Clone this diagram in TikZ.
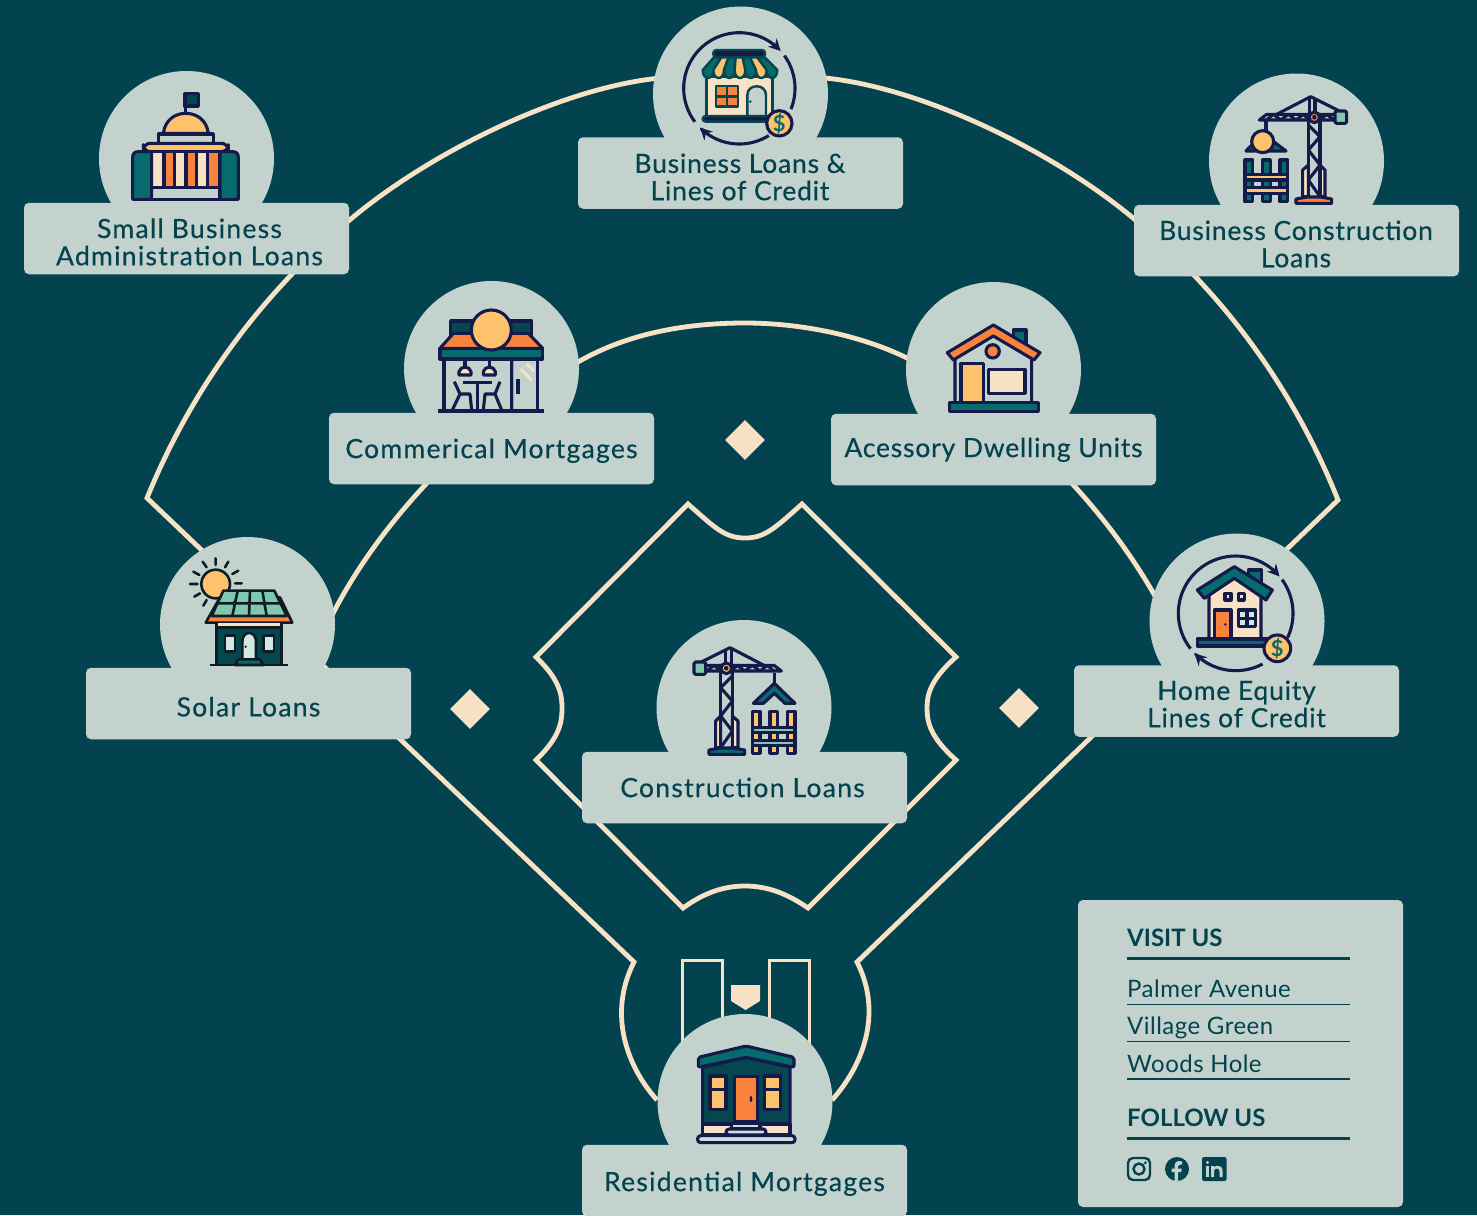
\documentclass[tikz,border=0pt]{standalone}
\usepackage{fontspec}
\setmainfont{Lato}
\newfontfamily\labf{Lato}[FakeBold=0.4,LetterSpace=3]
\newfontfamily\labw{Lato}[FakeBold=0.4,LetterSpace=4.8]
\newfontfamily\itemf{Lato}[LetterSpace=2]
\usetikzlibrary{arrows.meta,shapes.geometric}
\definecolor{bgc}{HTML}{02434F}
\definecolor{panel}{HTML}{C3D2CC}
\definecolor{cream}{HTML}{F7E2C6}
\definecolor{navy}{HTML}{141A4A}
\definecolor{teal}{HTML}{066B6C}
\definecolor{deep}{HTML}{05474F}
\definecolor{orng}{HTML}{F9823C}
\definecolor{yel}{HTML}{FDC26B}
\definecolor{mint}{HTML}{7FC8AE}
\definecolor{pale}{HTML}{D3E8E2}
\definecolor{blk}{HTML}{0E1C26}
\tikzset{
 x=1pt,y=-1pt,
 field/.style={draw=cream,line width=4.8pt,line join=miter},
 box/.style={draw=cream,line width=3pt},
 circ/.style={circle,fill=panel,minimum size=175pt,inner sep=0pt},
 lab/.style={rectangle,fill=panel,rounded corners=5pt,minimum width=325pt,minimum height=71.5pt,inner sep=0pt,text=bgc,align=center,font=\fontsize{26.5}{27.3}\labf\selectfont},
 labwide/.style={lab,font=\fontsize{26.5}{27.3}\labw\selectfont},
 labtxt/.style={inner sep=0pt,text=bgc,align=center,font=\fontsize{26.5}{27.3}\labf\selectfont},
 labtxtw/.style={labtxt,font=\fontsize{26.5}{27.3}\labw\selectfont},
 drop/.style={execute at begin node={\rule{0pt}{#1pt}}},
 dia/.style={diamond,fill=cream,minimum size=40pt,inner sep=0pt},
 nv/.style={draw=navy,line width=3.1pt,line join=round},
 nt/.style={draw=blk,line width=2.6pt,line join=round},
 tl/.style={draw=deep,line width=2.4pt,line join=round},
 zm/.style 2 args={shift={(#1,#2)},scale=1/3},
 head/.style={text=bgc,font=\fontsize{24}{26}\bfseries\selectfont,inner sep=0pt,anchor=base west},
 item/.style={text=bgc,font=\fontsize{24}{26}\itemf\selectfont,inner sep=0pt,anchor=base west},
 dollar/.style={text=teal,font=\fontsize{22}{24}\bfseries\selectfont,inner sep=0pt},
}
\newcommand\varc[5]{plot[domain=#4:#5,samples=40] ({#1+#3*cos(\x)},{#2+#3*sin(\x)})}
\newcommand\craneic[2]{%
 \draw[nv] (268,88)--(268,40) (285,88)--(285,45);
 \draw[nv,fill=cream] (265,240)--(248,255)--(248,335)--(265,335)--cycle;
 \draw[nv,fill=cream] (300,240)--(315,255)--(315,335)--(300,335)--cycle;
 \draw[nv] (265,88)--(265,338) (300,88)--(300,338);
 \draw[nv] (265,120)--(300,155)--(265,195)--(300,240)--(265,285)--(300,335);
 \draw[nv] (170,88)--(272,35)--(358,78);
 \draw[nv] (118,105)--(345,105)--(345,88)--(140,88)--cycle;
 \draw[nv] (140,105)--(160,88)--(182,105)--(205,88)--(228,105)--(250,88)--(268,105) (300,105)--(320,88)--(342,105);
 \draw[nv,fill=mint,rounded corners=1.5pt] (345,78) rectangle (380,115);
 \draw[nv,fill=#1] (283,97) circle[radius=16];
 \draw[nv,fill=panel] (283,97) circle[radius=3];
 \draw[nv,fill=#2] (228,355)--(228,342)--(262,336)--(302,336)--(335,342)--(335,355)--cycle;
}
\begin{document}
\begin{tikzpicture}
\useasboundingbox (0,0) rectangle (1477,1215);
\fill[bgc] (0,0) rectangle (1477,1215);
% ---- field lines
\coordinate (plateL) at (634,962);
\coordinate (plateR) at (857,962);
\coordinate (cornL) at (147,498);
\coordinate (cornR) at (1338,500);
\draw[field] (657,1100) .. controls (628,1068) and (607,1015) .. (plateL) -- (cornL)
 .. controls (185,405) and (248,305) .. (352,218)
 .. controls (430,153) and (560,88) .. (660,78)
 -- (825,78)
 .. controls (925,88) and (1055,153) .. (1133,218)
 .. controls (1237,305) and (1300,405) .. (cornR)
 -- (plateR) .. controls (884,1015) and (861,1068) .. (832,1100);
\draw[field] (325,630) .. controls (366,540) and (458,432) .. (578,362)
 .. controls (630,332) and (690,323) .. (745,323)
 .. controls (800,323) and (860,335) .. (907,358)
 .. controls (1003,403) and (1103,500) .. (1160,605);
\draw[field] (688,504) .. controls (715,528) and (725,538) .. (745,538) .. controls (765,538) and (775,528) .. (802,504)
 -- (956,657) .. controls (930,680) and (927,695) .. (927,708) .. controls (927,722) and (930,737) .. (956,760)
 -- (808,908) .. controls (785,892) and (765,886) .. (745,886) .. controls (725,886) and (705,892) .. (683,908)
 -- (536,760) .. controls (560,737) and (562,722) .. (562,708) .. controls (562,695) and (560,680) .. (536,657) -- cycle;
\draw[box] (682,1060) -- (682,960) -- (722,960) -- (722,1060);
\draw[box] (769,1060) -- (769,960) -- (809,960) -- (809,1060);
\fill[cream] (731,985) -- (760,985) -- (760,1001) -- (745.5,1010) -- (731,1001) -- cycle;
\node[dia] (d1) at (745,440) {};
\node[dia] (d2) at (470,709) {};
\node[dia] (d3) at (1019,708) {};
% ---- circles
\node[circ] (c1) at (186.5,158.5) {};
\node[circ] (c2) at (740.5,94) {};
\node[circ] (c3) at (1296.5,161) {};
\node[circ] (c4) at (491.5,368.5) {};
\node[circ] (c5) at (993.5,369.5) {};
\node[circ] (c6) at (247.5,624.5) {};
\node[circ] (c7) at (1237,621) {};
\node[circ] (c8) at (744,707.5) {};
\node[circ] (c9) at (745,1101.5) {};
% ---- labels
\node[lab] (l1) at (186.5,238.5) {};
\node[labtxtw] (l1t) at (189.5,242) {Small Business\\Administration Loans};
\node[lab] (l2) at (740.5,173) {};
\node[labtxt] (l2t) at (740,177) {Business Loans \&\\Lines of Credit};
\node[lab] (l3) at (1296.5,240.5) {};
\node[labtxt] (l3t) at (1296,244) {Business Construction\\Loans};
\node[labwide,drop=24] (l4) at (491.5,448.5) {Commerical Mortgages};
\node[lab,drop=20] (l5) at (993.5,449.5) {Acessory Dwelling Units};
\node[labwide,drop=26] (l6) at (248.5,703.5) {Solar Loans};
\node[lab] (l7) at (1236.5,701) {};
\node[labtxt] (l7t) at (1236.5,704) {Home Equity\\Lines of Credit};
\node[labwide,drop=18] (l8) at (744.5,787.5) {Construction Loans\hspace*{4pt}};
\node[labwide,drop=26] (l9) at (744.5,1180.5) {Residential Mortgages};
% ---- info panel
\node[rectangle,fill=panel,rounded corners=5pt,minimum width=325pt,minimum height=307pt,inner sep=0pt] (info) at (1240.5,1053.5) {};
\node[head] (t1) at (1127,946) {VISIT US};
\node[item] (t2) at (1127,997) {Palmer Avenue};
\node[item] (t3) at (1127,1034) {Village Green};
\node[item] (t4) at (1127,1072) {Woods Hole};
\node[head] (t5) at (1127,1126) {FOLLOW US};
\draw[bgc,line width=3pt] (1127,958.5) -- (1350,958.5);
\draw[bgc,line width=1.2pt] (1127,1004.5) -- (1350,1004.5);
\draw[bgc,line width=1.2pt] (1127,1041.5) -- (1350,1041.5);
\draw[bgc,line width=1.2pt] (1127,1079) -- (1350,1079);
\draw[bgc,line width=3pt] (1127,1138) -- (1350,1138);
% social icons
\draw[bgc,line width=2.4pt,rounded corners=5pt] (1128,1158) rectangle (1150,1180);
\draw[bgc,line width=2.4pt] (1139,1169) circle[radius=5.5];
\fill[bgc] (1145.3,1162.8) circle[radius=1.6];
\fill[bgc] (1177,1169) circle[radius=12];
\fill[panel] (1174.5,1181)--(1174.5,1172)--(1171.5,1172)--(1171.5,1168.5)--(1174.5,1168.5)--(1174.5,1165.5) .. controls (1174.5,1162.5) and (1176.5,1161) .. (1179,1161) -- (1182,1161.5)--(1182,1164.5)--(1180,1164.5) .. controls (1178.8,1164.5) and (1178.2,1165) .. (1178.2,1166.2)--(1178.2,1168.5)--(1181.8,1168.5)--(1181.2,1172)--(1178.2,1172)--(1178.2,1181)--cycle;
\fill[bgc,rounded corners=2pt] (1202,1157) rectangle (1226.5,1181);
\fill[panel] (1207.5,1162.5) circle[radius=1.7];
\fill[panel] (1206,1166) rectangle (1209,1177);
\fill[panel] (1211,1166)--(1214,1166)--(1214,1167.5) .. controls (1215,1166) and (1216.5,1165.7) .. (1218,1165.7) .. controls (1221,1165.7) and (1222.5,1167.5) .. (1222.5,1171)--(1222.5,1177)--(1219.5,1177)--(1219.5,1171.5) .. controls (1219.5,1169.5) and (1218.5,1168.5) .. (1217,1168.5) .. controls (1215,1168.5) and (1214,1169.5) .. (1214,1171.5)--(1214,1177)--(1211,1177)--cycle;
% ---- icon 1 capitol
\begin{scope}[zm={90}{70}]
\draw[nv,fill=deep] (287,125)--(287,70) (283,70) rectangle (325,108);
\draw[nv,fill=yel] (220,190) .. controls (225,150) and (255,130) .. (287,130) .. controls (320,130) and (350,150) .. (355,190) -- cycle;
\draw[nv,fill=panel] (205,192) rectangle (370,220);
\draw[nv,fill=yel,rounded corners=7pt] (160,220) rectangle (415,245);
\draw[nv,fill=panel] (185,350) rectangle (390,388);
\foreach \a/\b/\c in {185/222/cream,222/254/orng,254/288/cream,288/320/orng,320/352/cream,352/390/orng}{
 \draw[nv,fill=\c] (\a,245) rectangle (\b,352);}
\draw[nv,fill=teal] (185,245) -- (145,245) .. controls (134,245) and (128,251) .. (128,262) -- (128,388) -- (185,388) -- cycle;
\draw[nv,fill=teal] (390,245) -- (428,245) .. controls (439,245) and (445,251) .. (445,262) -- (445,388) -- (390,388) -- cycle;
\end{scope}
% ---- icon 2 shop
\begin{scope}[zm={660}{20}]
\draw[nv,-{Stealth[length=12pt,width=12pt]}] \varc{238}{205}{167}{143}{318};
\draw[nv] \varc{238}{205}{167}{-36}{22};
\draw[nv,-{Stealth[length=12pt,width=12pt]}] \varc{238}{205}{167}{58}{135};
\draw[tl,fill=cream] (140,170) rectangle (338,290);
\draw[tl,fill=navy,rounded corners=3pt] (160,90) rectangle (315,112);
\foreach \ta/\tb/\ba/\bb/\c in {162/184/128/160/teal,184/206/160/192/yel,206/227/192/224/teal,227/248/224/256/yel,248/270/256/288/teal,270/292/288/320/yel,292/314/320/352/teal}{
 \draw[tl,fill=\c] (\ta,112) -- (\tb,112) -- (\bb,150) .. controls (\bb,182) and (\ba,182) .. (\ba,150) -- cycle;}
\draw[tl,fill=orng] (168,198) rectangle (234,260);
\draw[tl] (201,198)--(201,260) (168,229)--(234,229);
\draw[tl,fill=panel] (262,290) -- (262,225) .. controls (262,190) and (318,190) .. (318,225) -- (318,290) -- cycle;
\fill[deep] (271,245) circle[radius=4];
\draw[tl,fill=navy,rounded corners=3pt] (128,288) rectangle (340,305);
\draw[nv,fill=yel] (358,310) circle[radius=38];
\node[dollar] (s1) at (358,310) {\$};
\end{scope}
% ---- icon 3 crane
\begin{scope}[zm={1220}{85}]
\draw[nv,fill=teal] (78,198)--(128,145)--(198,198)--cycle;
\draw[nv] (138,105)--(138,140);
\draw[nv,fill=yel] (128,170) circle[radius=33];
\foreach \a in {75,128,180}{\draw[nv,fill=teal] (\a,225) rectangle +(23,125);}
\draw[nv,fill=yel] (75,268) rectangle (202,285);
\draw[nv,fill=yel] (75,308) rectangle (202,325);
\craneic{orng}{orng}
\end{scope}
% ---- icon 4 commercial
\begin{scope}[zm={420}{295}]
\draw[nv] (72,192)--(72,348) (352,192)--(352,348);
\draw[draw=orng,line width=2.6pt] (278,192)--(278,348);
\draw[nv] (275,192)--(275,348);
\draw[draw=orng,line width=1.5pt] (55,352)--(372,352);
\draw[nv] (55,348)--(372,348);
\draw[nv,line width=3.6pt] (294,252)--(294,297);
\draw[cream,line width=2.8pt] (320,207)--(342,228) (302,222)--(335,255);
\draw[nv,fill=deep] (92,78) rectangle (335,120);
\draw[nv,fill=orng] (100,115)--(325,115)--(368,160)--(60,160)--cycle;
\draw[nv,fill=teal] (60,160) rectangle (368,192);
\draw[nv,fill=yel] (214,105) circle[radius=60];
\foreach \a in {135,208}{
 \draw[nv] (\a,192)--(\a,214);
 \draw[nv,fill=cream] (\a-18,240)--(\a-18,230) .. controls (\a-14,212) and (\a+14,212) .. (\a+18,230)--(\a+18,240)--cycle;}
\draw[nv] (130,263)--(215,263) (172,263)--(172,348);
\draw[nv] (103,260)--(120,297)--(150,297)--(155,345) (120,297)--(97,345);
\draw[nv] (240,260)--(225,297)--(195,297)--(190,345) (225,297)--(245,345);
\end{scope}
% ---- icon 5 ADU
\begin{scope}[zm={930}{310}]
\draw[nv,fill=teal] (250,60) rectangle (288,105);
\draw[nv,fill=panel] (75,285)--(75,135)--(190,65)--(305,135)--(305,285)--cycle;
\draw[nv,fill=orng] (52,128)--(190,45)--(330,128)--(312,150)--(190,78)--(70,150)--cycle;
\draw[nv,fill=orng] (188,124) circle[radius=20];
\draw[nv,fill=yel] (93,160) rectangle (160,278);
\draw[nv,fill=cream] (175,178) rectangle (285,250);
\draw[nv,fill=teal] (58,278) rectangle (325,305);
\end{scope}
% ---- icon 6 solar
\begin{scope}[zm={175}{550}]
\draw[nt,line cap=round] (122,25)--(122,45) (83,35)--(95,52) (160,35)--(150,52) (55,65)--(73,75) (190,62)--(172,72) (45,102)--(68,102) (180,100)--(200,100) (58,140)--(75,130) (85,167)--(95,150);
\draw[nt,fill=yel] (122,102) circle[radius=43];
\draw[nt,fill=orng] (92,218)--(135,142)--(315,142)--(352,218)--cycle;
\draw[nt,fill=mint] (145,122)--(298,122)--(335,198)--(110,198)--cycle;
\draw[nt] (188,122)--(172,198) (225,122)--(222,198) (262,122)--(275,198) (128,160)--(316,160);
\foreach \a in {178,222,267}{\draw[nt,fill=panel,line width=1.5pt] (\a,160) circle[radius=5];}
\fill[cream] (125,218) rectangle (320,232);
\draw[nt,fill=deep] (125,232) rectangle (320,345);
\draw[nt] (125,218)--(125,232) (320,218)--(320,232);
\draw[nt,fill=pale] (150,257) rectangle (180,305);
\draw[nt,fill=pale] (265,257) rectangle (297,305);
\draw[nt,fill=pale] (202,335)--(202,275) .. controls (202,240) and (243,240) .. (243,275) -- (243,335) -- cycle;
\fill[blk] (212,290) circle[radius=4];
\draw[nt,fill=teal] (180,345)--(190,328)--(255,328)--(265,345)--cycle;
\draw[nt] (105,345)--(340,345);
\end{scope}
% ---- icon 7 home equity
\begin{scope}[zm={1165}{545}]
\draw[nv,-{Stealth[length=12pt,width=12pt]}] \varc{212}{205}{172}{142}{320};
\draw[nv] \varc{212}{205}{172}{-36}{25};
\draw[nv,-{Stealth[length=12pt,width=12pt]}] \varc{212}{205}{172}{62}{136};
\draw[nv,fill=teal] (250,75) rectangle (290,118);
\draw[nv,fill=cream] (132,285)--(132,150)--(208,95)--(288,150)--(288,285)--cycle;
\draw[nv,fill=teal] (97,135)--(208,65)--(322,135)--(303,165)--(208,100)--(118,160)--cycle;
\draw[nv,fill=cream] (180,145) rectangle (198,165);
\draw[nv,fill=cream] (220,145) rectangle (238,165);
\draw[nv,fill=orng] (148,195) rectangle (198,280);
\fill[navy] (181,238) circle[radius=4];
\draw[nv,fill=pale] (220,195) rectangle (272,245);
\draw[nv] (246,195)--(246,245) (220,220)--(272,220);
\draw[nv,fill=teal] (97,282) rectangle (310,303);
\draw[nv,fill=yel] (337,310) circle[radius=40];
\node[dollar] (s2) at (337,310) {\$};
\end{scope}
% ---- icon 8 construction
\begin{scope}[shift={(680+422/3,636)},xscale=-1/3,yscale=1/3]
\craneic{yel}{teal}
\end{scope}
\begin{scope}[zm={680}{635}]
\draw[nv] (283,115)--(283,150);
\draw[nv,fill=teal] (220,205)--(283,145)--(345,205)--(315,205)--(283,175)--(250,205)--cycle;
\foreach \a in {218,270,323}{\draw[nv,fill=yel] (\a,230) rectangle +(22,125);}
\draw[nv,fill=mint] (218,278) rectangle (345,292);
\draw[nv,fill=mint] (218,317) rectangle (345,332);
\end{scope}
% ---- icon 9 residential
\begin{scope}[zm={620}{950}]
\draw[nv,fill=deep] (248,352)--(378,322)--(510,352)--(510,522)--(248,522)--cycle;
\draw[nv,fill=teal,rounded corners=2pt] (235,322)--(378,288)--(522,322)--(522,352)--(378,322)--(235,352)--cycle;
\foreach \a in {270,434}{
 \draw[nv,fill=yel] (\a,378) rectangle +(48,100);
 \draw[nv] (\a,418)--(\a+48,418);}
\draw[nv,fill=orng] (343,380) rectangle (413,515);
\fill[navy] (393,447) ellipse[x radius=4,y radius=9];
\draw[nv,fill=cream] (248,522) rectangle (510,555);
\draw[nv,fill=pale!60!panel] (335,520) rectangle (420,537);
\draw[nv,fill=pale!60!panel,rounded corners=3pt] (318,555) -- (318,537) -- (438,537) -- (438,555) -- cycle;
\draw[nv,fill=pale!60!panel,rounded corners=3pt] (233,557) rectangle (525,578);
\end{scope}
\end{tikzpicture}
\end{document}
